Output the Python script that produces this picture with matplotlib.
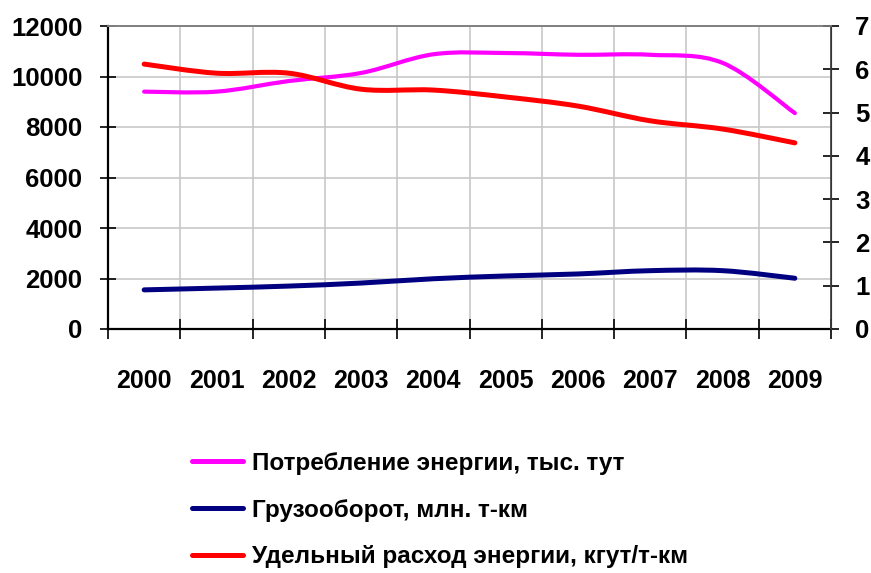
import matplotlib
matplotlib.use("Agg")
import matplotlib.pyplot as plt
from matplotlib.path import Path
from matplotlib.patches import PathPatch
from matplotlib.lines import Line2D
import numpy as np

plt.rcParams["font.family"] = ["Liberation Sans", "DejaVu Sans"]
plt.rcParams["font.weight"] = "bold"

years = ["2000", "2001", "2002", "2003", "2004", "2005", "2006", "2007", "2008", "2009"]
energy = [9400, 9400, 9820, 10140, 10880, 10930, 10860, 10860, 10540, 8550]   # left axis
freight = [1550, 1620, 1700, 1820, 1990, 2100, 2180, 2310, 2310, 2010]        # left axis
specific = [6.12, 5.91, 5.91, 5.54, 5.52, 5.36, 5.15, 4.81, 4.62, 4.30]      # right axis

labels = ["Потребление энергии, тыс. тут",
          "Грузооборот, млн. т-км",
          "Удельный расход энергии, кгут/т-км"]
colors = ["#FF00FF", "#000080", "#FF0000"]


def smooth_path(xs, ys):
    # Excel-style smoothed line: cubic Bezier segments through every point
    pts = np.column_stack([xs, ys]).astype(float)
    n = len(pts)
    verts = [pts[0]]
    codes = [Path.MOVETO]
    for i in range(n - 1):
        p0 = pts[i - 1] if i > 0 else pts[i]
        p1 = pts[i]
        p2 = pts[i + 1]
        p3 = pts[i + 2] if i + 2 < n else pts[i + 1]
        c1 = p1 + (p2 - p0) / 6.0
        c2 = p2 - (p3 - p1) / 6.0
        verts += [c1, c2, p2]
        codes += [Path.CURVE4] * 3
    return Path(verts, codes)


fig = plt.figure(figsize=(8.71, 5.73), dpi=100)
ax = fig.add_axes([108 / 871, 1 - 329 / 573, (831 - 108) / 871, (329 - 26) / 573])
ax2 = ax.twinx()

x = np.arange(len(years)) + 0.5

for ys, c, lw in [(energy, colors[0], 3.0), (freight, colors[1], 3.6)]:
    ax.add_patch(PathPatch(smooth_path(x, ys), facecolor="none", edgecolor=c,
                           lw=lw, capstyle="round", joinstyle="round", zorder=3))
ax2.add_patch(PathPatch(smooth_path(x, specific), facecolor="none", edgecolor=colors[2],
                        lw=3.6, capstyle="round", joinstyle="round", zorder=3))

ax.set_xlim(0, len(years))
ax.set_ylim(0, 12000)
ax2.set_ylim(0, 7)

ax.set_yticks(range(0, 12001, 2000))
ax2.set_yticks(range(0, 8))
ax.set_xticks(range(0, len(years) + 1))
ax.set_xticklabels([])
ax.set_xticks(x, minor=True)
ax.set_xticklabels(years, minor=True)

ax.grid(True, color="#C8C8C8", lw=1.2)
ax.set_axisbelow(True)

ax.tick_params(axis="y", direction="inout", length=11, width=1.2, labelsize=18.5, pad=13)
ax.tick_params(axis="x", which="major", direction="inout", length=14, width=1.2)
ax.tick_params(axis="x", which="minor", length=0, labelsize=18, pad=29)
ax2.tick_params(axis="y", direction="inout", length=11, width=1.2, labelsize=18.5, pad=12)

for s in ["left", "bottom"]:
    ax.spines[s].set_color("black")
    ax.spines[s].set_linewidth(1.6)
for a in (ax, ax2):
    a.spines["top"].set_color("#808080")
    a.spines["top"].set_linewidth(1.2)
ax2.spines["right"].set_color("#404040")
ax2.spines["right"].set_linewidth(1.2)
ax2.spines["left"].set_visible(False)
ax2.spines["bottom"].set_visible(False)

handles = [Line2D([], [], color=c, lw=3.6, solid_capstyle="round") for c in colors]
fig.legend(handles, labels, loc="center left", bbox_to_anchor=(192 / 871, 1 - 510 / 573),
           frameon=False, fontsize=17.5, handlelength=2.1, handletextpad=0.35,
           labelspacing=0.98, borderpad=0, borderaxespad=0)

fig.savefig("out.png", dpi=100)
